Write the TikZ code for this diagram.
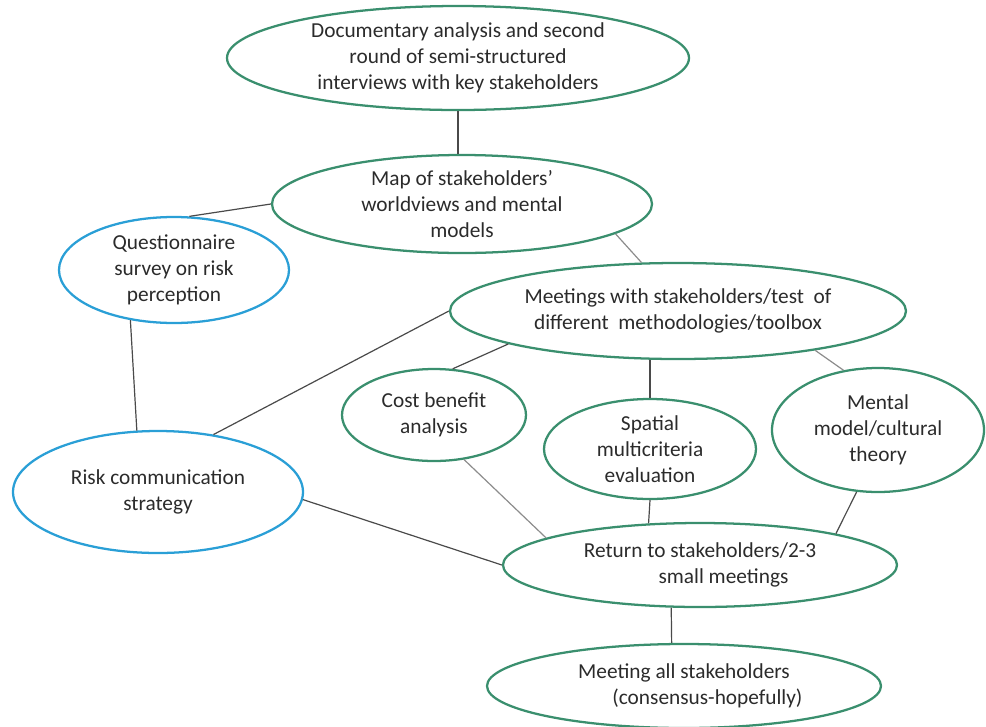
\documentclass[tikz,border=0pt]{standalone}
\usepackage{fontspec}
\setmainfont{Carlito}
\usetikzlibrary{shapes.geometric}
\definecolor{egreen}{HTML}{3A8F6E}
\definecolor{eblue}{HTML}{2A9FD6}
\definecolor{ltxt}{HTML}{2B2B2B}
\definecolor{dline}{HTML}{4A4A4A}
\definecolor{lline}{HTML}{8C8C8C}
\begin{document}
\begin{tikzpicture}[x=0.75pt,y=-0.75pt,
  every node/.style={font=\fontsize{16pt}{19.5pt}\selectfont, text=ltxt},
  ell/.style={ellipse, draw=egreen, line width=1.7pt, inner sep=0pt, align=center},
  bell/.style={ellipse, draw=eblue, line width=1.7pt, inner sep=0pt, align=center},
  con/.style={draw=dline, line width=0.9pt},
  lcon/.style={draw=lline, line width=0.9pt}]
\useasboundingbox (0,0) rectangle (986,726);
\node[ell, minimum width={462*0.75pt}, minimum height={104*0.75pt}] (T) at (458,58)
  {Documentary analysis and second\\round of semi-structured\\interviews with key stakeholders};
\node[ell, minimum width={380*0.75pt}, minimum height={98*0.75pt}] (M) at (462,204)
  {Map of stakeholders'\\worldviews and mental\\models};
\node[bell, minimum width={230*0.75pt}, minimum height={106*0.75pt}] (Q) at (174,270)
  {Questionnaire\\survey on risk\\perception};
\node[ell, minimum width={456*0.75pt}, minimum height={96*0.75pt}] (E) at (678,311)
  {Meetings with stakeholders/test~ of\\different~ methodologies/toolbox};
\node[bell, minimum width={290*0.75pt}, minimum height={122*0.75pt}] (R) at (158,492)
  {Risk communication\\strategy};
\node[ell, minimum width={184*0.75pt}, minimum height={92*0.75pt}] (C) at (434,415)
  {Cost benefit\\analysis};
\node[ell, minimum width={212*0.75pt}, minimum height={100*0.75pt}] (S) at (650,449)
  {Spatial\\multicriteria\\evaluation};
\node[ell, minimum width={212*0.75pt}, minimum height={124*0.75pt}] (N) at (878,430)
  {Mental\\model/cultural\\theory};
\node[ell, minimum width={394*0.75pt}, minimum height={84*0.75pt}] (U) at (700,565)
  {Return to stakeholders/2-3\\\hspace*{2.2em}small meetings};
\node[ell, minimum width={394*0.75pt}, minimum height={84*0.75pt}] (A) at (684,686)
  {Meeting all stakeholders\\\hspace*{2.2em}(consensus-hopefully)};
\draw[con] (T.south) -- (T.south |- M.north);
\draw[con] (M.west) -- (Q.74);
\draw[lcon] (M.349) -- (E.127);
\draw[con] (Q.229) -- (R.109);
\draw[con] (R.46) -- (E.west);
\draw[con] (E.191) -- (C.68);
\draw[con] (S.north) -- (S.north |- E.south);
\draw[lcon] (E.344) -- (N.120);
\draw[lcon] (C.304) -- (U.170);
\draw[con] (S.south) -- (U.141);
\draw[con] (N.251) -- (U.13);
\draw[con] (R.357) -- (U.180);
\draw[con] (U.236) -- (A.106);
\end{tikzpicture}
\end{document}
